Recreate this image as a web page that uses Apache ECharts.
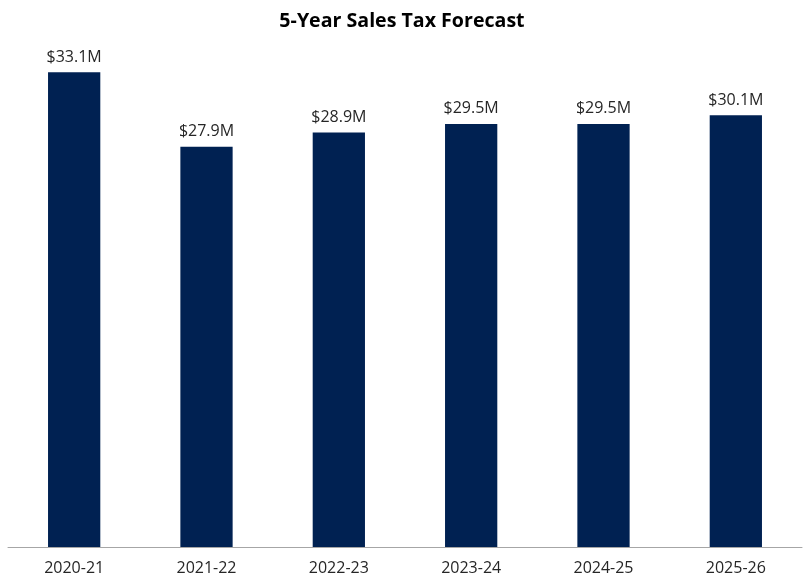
<!DOCTYPE html>
<html>
<head>
<meta charset="utf-8">
<script src="https://cdn.jsdelivr.net/npm/echarts@6/dist/echarts.min.js"></script>
<style>
  html, body { margin: 0; padding: 0; background: #fff; }
  #chart { width: 804px; height: 582px; }
</style>
</head>
<body>
<div id="chart"></div>
<script>
// Fiscal years on the category axis
const fiscalYears = ['2020-21', '2021-22', '2022-23', '2023-24', '2024-25', '2025-26'];
// Sales tax revenue, millions of dollars
const salesTax = [33.1, 27.9, 28.9, 29.5, 29.5, 30.1];

const FONT = "'Open Sans', sans-serif";

const chart = echarts.init(document.getElementById('chart'), null, { renderer: 'canvas' });
chart.setOption({
  animation: false,
  backgroundColor: '#ffffff',
  title: {
    text: '5-Year Sales Tax Forecast',
    left: 'center',
    top: 6,
    textStyle: { fontFamily: FONT, fontSize: 19.6, fontWeight: 'bold', color: '#000000' }
  },
  grid: { left: 8, right: 2, top: 45, bottom: 35, containLabel: false },
  xAxis: {
    type: 'category',
    data: fiscalYears,
    axisLine: { lineStyle: { color: '#a6a6a6', width: 1 } },
    axisTick: { show: false },
    axisLabel: { fontFamily: FONT, fontSize: 16, color: '#262626', margin: 13 }
  },
  yAxis: {
    type: 'value',
    min: 0,
    max: 35,
    show: false,
    splitLine: { show: false }
  },
  series: [{
    type: 'bar',
    data: salesTax,
    barWidth: '39.5%',
    itemStyle: { color: '#002152' },
    label: {
      show: true,
      position: 'top',
      distance: 7,
      fontFamily: FONT,
      fontSize: 16,
      color: '#262626',
      formatter: p => '$' + p.value.toFixed(1) + 'M'
    }
  }]
});
</script>
</body>
</html>
